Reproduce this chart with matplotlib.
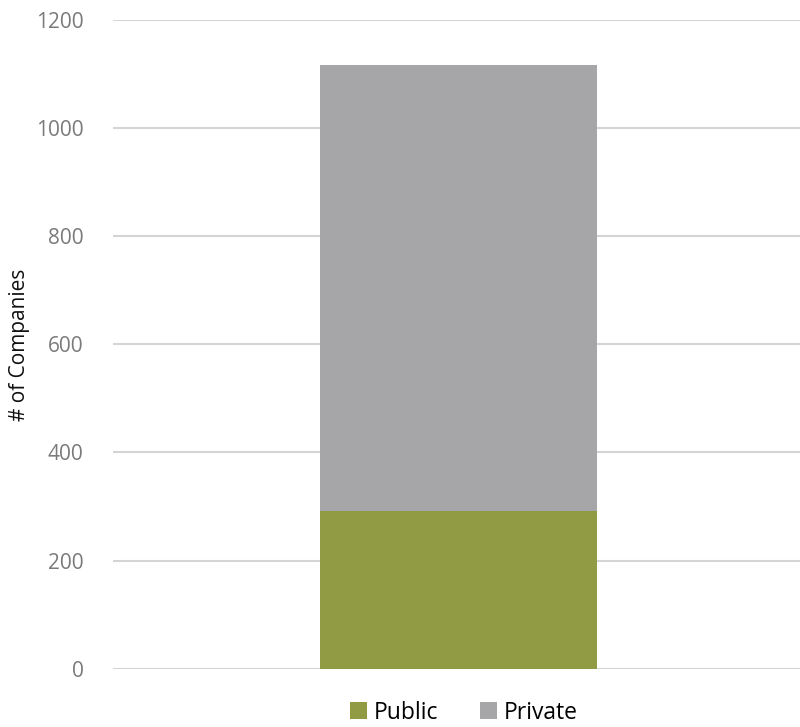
import matplotlib.pyplot as plt
from matplotlib.patches import Patch

categories = ["Companies"]
public = [292]
private = [825]
series_names = ["Public", "Private"]
colors = ["#919b43", "#a6a6a8"]
y_ticks = [0, 200, 400, 600, 800, 1000, 1200]

plt.rcParams['font.family'] = ['Open Sans', 'DejaVu Sans']

fig = plt.figure(figsize=(8, 7.27), dpi=100)
ax = fig.add_axes([0.141, 0.0802, 0.859, 0.8923])

ax.bar(range(len(categories)), public, width=0.403, color=colors[0], zorder=3)
ax.bar(range(len(categories)), private, width=0.403, bottom=public,
       color=colors[1], zorder=3)

ax.set_xlim(-0.503, 0.497)
ax.set_ylim(0, 1200)
ax.set_yticks(y_ticks)
ax.set_yticklabels([str(t) for t in y_ticks], color="#7a7a7a", fontsize=15)
ax.set_xticks([])
ax.tick_params(axis='y', length=0, pad=21)
for s in ax.spines.values():
    s.set_visible(False)
ax.yaxis.grid(True, color="#d4d4d4", linewidth=1.5, zorder=0)
ax.set_axisbelow(True)

# axis title placed by hand so it stays inside the figure
fig.text(20 / 800, 1 - 345 / 727, "# of Companies", rotation=90,
         ha='center', va='center', fontsize=15, color="#111111")

handles = [Patch(facecolor=c, label=n) for c, n in zip(colors, series_names)]
fig.legend(handles=handles, loc='lower center', bbox_to_anchor=(0.58, -0.025),
           ncol=2, frameon=False, fontsize=16.5, handlelength=0.75, handleheight=0.75,
           handletextpad=0.3, columnspacing=1.8)

fig.savefig("out.png", dpi=100)
